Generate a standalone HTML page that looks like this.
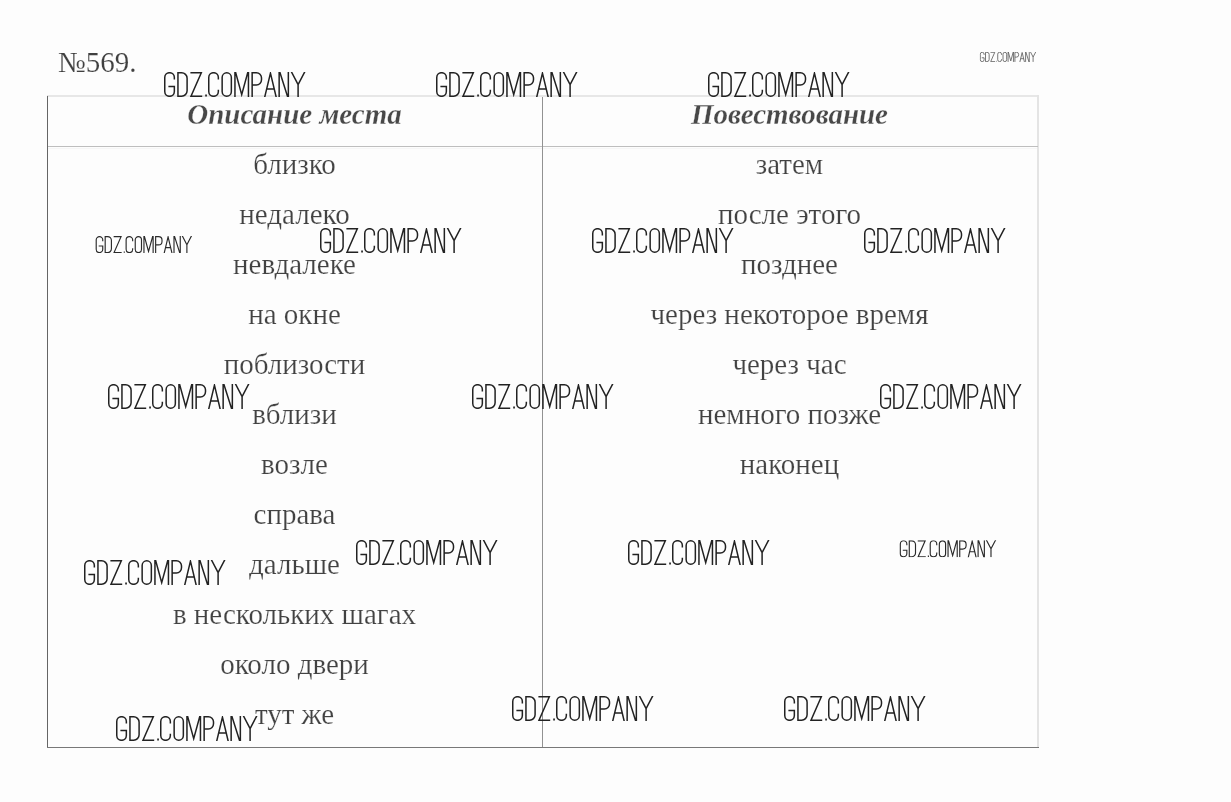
<!DOCTYPE html>
<html lang="ru"><head><meta charset="utf-8"><title>569</title>
<style>
html,body{margin:0;padding:0;}
#tx{position:absolute;left:0;top:0;width:1231px;height:802px;will-change:transform;mix-blend-mode:multiply;}
body{width:1231px;height:802px;background:#fdfdfd;position:relative;overflow:hidden;font-family:"Liberation Serif",serif;}
.ln{position:absolute;}
.t{position:absolute;white-space:nowrap;font-size:29px;line-height:40px;height:40px;color:#424242;letter-spacing:0px;-webkit-text-stroke:0.2px #fdfdfd;text-align:center;width:495px;}
.l{left:47px;}
.r{left:542px;}
.h{font-weight:bold;font-style:italic;color:#484848;-webkit-text-stroke:0.3px #fdfdfd;}
.num{position:absolute;left:58px;top:42px;font-size:29px;line-height:40px;color:#404040;-webkit-text-stroke:0.15px #fdfdfd;white-space:nowrap;}
svg{position:absolute;left:0;top:0;}
</style></head><body>

<div class="ln" style="left:47px;top:95px;width:992px;height:2px;background:#e7e7e7"></div>
<div class="ln" style="left:1037px;top:95px;width:2px;height:653px;background:#e4e4e4"></div>
<div class="ln" style="left:47px;top:146px;width:991px;height:1px;background:#bebebe"></div>
<div class="ln" style="left:48px;top:148px;width:989px;height:1px;background:#f6f6f6"></div>
<div class="ln" style="left:47px;top:96px;width:1px;height:652px;background:#666"></div>
<div class="ln" style="left:542px;top:97px;width:1px;height:651px;background:#929292"></div>
<div class="ln" style="left:47px;top:747px;width:992px;height:1px;background:#787878"></div>
<div id="tx">
<div class="num">№569.</div>
<div class="t l h" style="top:94.21px;">Описание места</div>
<div class="t r h" style="top:94.21px;">Повествование</div>
<div class="t l" style="top:143.81px">близко</div>
<div class="t l" style="top:193.81px">недалеко</div>
<div class="t l" style="top:243.81px">невдалеке</div>
<div class="t l" style="top:293.81px">на окне</div>
<div class="t l" style="top:343.81px">поблизости</div>
<div class="t l" style="top:393.81px">вблизи</div>
<div class="t l" style="top:443.81px">возле</div>
<div class="t l" style="top:493.81px">справа</div>
<div class="t l" style="top:543.81px">дальше</div>
<div class="t l" style="top:593.81px">в нескольких шагах</div>
<div class="t l" style="top:643.81px">около двери</div>
<div class="t l" style="top:693.81px">тут же</div>
<div class="t r" style="top:143.81px">затем</div>
<div class="t r" style="top:193.81px">после этого</div>
<div class="t r" style="top:243.81px">позднее</div>
<div class="t r" style="top:293.81px">через некоторое время</div>
<div class="t r" style="top:343.81px">через час</div>
<div class="t r" style="top:393.81px">немного позже</div>
<div class="t r" style="top:443.81px">наконец</div>
</div>
<svg width="1231" height="802" viewBox="0 0 1231 802">
<defs><clipPath id="c"><rect x="-1" y="0" width="144" height="25"/></clipPath><g id="w" fill="none" stroke-linecap="butt" stroke-linejoin="miter" stroke-miterlimit="10" clip-path="url(#c)">
<path d="M10.35 7.4V5.5A4.8 4.8 0 0 0 .75 5.5V19.5A4.8 4.8 0 0 0 10.35 19.5V14.6H4.4"/>
<path d="M13.95 .75V24.25H17.6A5.5 5.5 0 0 0 23.1 18.75V6.25A5.5 5.5 0 0 0 17.6 .75Z"/>
<path d="M26.4 .75H37.3L27 24.25H38.2"/>
<path d="M41.2 23.5H42.9" stroke-width="2"/>
<path d="M54.35 7.4V5.5A4.8 4.8 0 0 0 44.75 5.5V19.5A4.8 4.8 0 0 0 54.35 19.5V17.8"/>
<rect x="58.15" y=".75" width="9.2" height="23.5" rx="4.6" ry="4.8"/>
<path d="M70.95 25V-2L77.7 22.6L84.45 -2V25"/>
<path d="M88.15 25V.75H92.4A5.1 5.1 0 0 1 97.5 5.85V7.8A5.1 5.1 0 0 1 92.4 12.9H88.15"/>
<path d="M100.5 26L106.45 1.2L112.4 26M102.8 16.9H110.1"/>
<path d="M115.15 25V-2L124.35 27V0"/>
<path d="M127 -1L134.1 12.6L141.2 -1M134.1 12.2V25"/>
</g></defs>

<use href="#w" x="0" y="0" transform="translate(164 72)" stroke="#222" stroke-width="1.5"/>
<use href="#w" x="0" y="0" transform="translate(436 72)" stroke="#222" stroke-width="1.5"/>
<use href="#w" x="0" y="0" transform="translate(708 72)" stroke="#222" stroke-width="1.5"/>
<use href="#w" x="0" y="0" transform="translate(320 228)" stroke="#222" stroke-width="1.5"/>
<use href="#w" x="0" y="0" transform="translate(592 228)" stroke="#222" stroke-width="1.5"/>
<use href="#w" x="0" y="0" transform="translate(864 228)" stroke="#222" stroke-width="1.5"/>
<use href="#w" x="0" y="0" transform="translate(108 384)" stroke="#222" stroke-width="1.5"/>
<use href="#w" x="0" y="0" transform="translate(472 384)" stroke="#222" stroke-width="1.5"/>
<use href="#w" x="0" y="0" transform="translate(880 384)" stroke="#222" stroke-width="1.5"/>
<use href="#w" x="0" y="0" transform="translate(356 540)" stroke="#222" stroke-width="1.5"/>
<use href="#w" x="0" y="0" transform="translate(628 540)" stroke="#222" stroke-width="1.5"/>
<use href="#w" x="0" y="0" transform="translate(84 560)" stroke="#222" stroke-width="1.5"/>
<use href="#w" x="0" y="0" transform="translate(512 696)" stroke="#222" stroke-width="1.5"/>
<use href="#w" x="0" y="0" transform="translate(784 696)" stroke="#222" stroke-width="1.5"/>
<use href="#w" x="0" y="0" transform="translate(116 716)" stroke="#222" stroke-width="1.5"/>
<use href="#w" transform="translate(95.7 236.1) scale(0.68)" stroke="#2a2a2a" stroke-width="1.69"/>
<use href="#w" transform="translate(899.8 540.3) scale(0.68)" stroke="#2a2a2a" stroke-width="1.69"/>
<use href="#w" transform="translate(980 52) scale(0.396)" stroke="#555" stroke-width="2.02"/>
</svg>
</body></html>
